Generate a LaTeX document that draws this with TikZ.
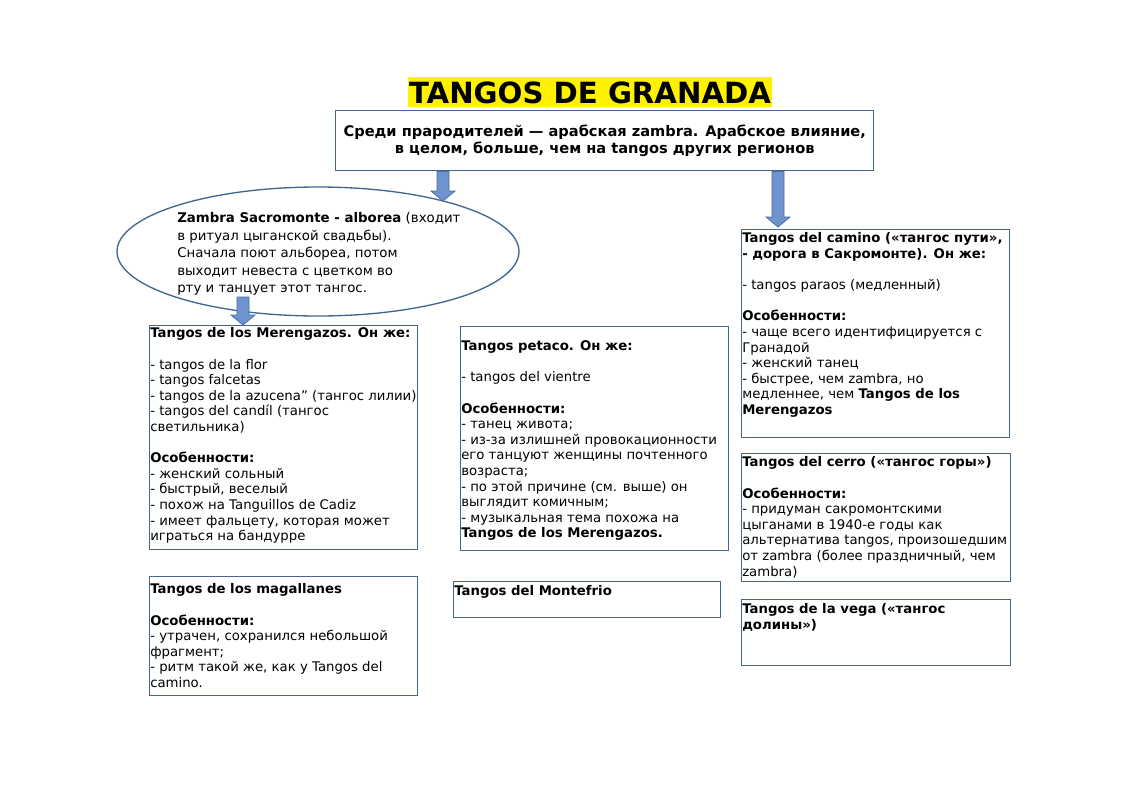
\documentclass[tikz,border=0pt]{standalone}
\usepackage{fontspec}
\setmainfont{DejaVu Sans}
\usetikzlibrary{calc,shapes.geometric}
\definecolor{bordc}{HTML}{46668F}
\definecolor{ellc}{HTML}{41668F}
\definecolor{arrfill}{HTML}{6E93CD}
\definecolor{arrdraw}{HTML}{4B70A6}
\newcommand\blockarr[2]{%
  \path[arrowst] let \p1=(#1), \p2=(#2) in
    (\x1-4.5pt,\y1) -- (\x1+4.5pt,\y1) -- (\x1+4.5pt,\y2+7.5pt) -- (\x1+9pt,\y2+7.5pt)
    -- (\x1,\y2) -- (\x1-9pt,\y2+7.5pt) -- (\x1-4.5pt,\y2+7.5pt) -- cycle;}
\begin{document}
\begin{tikzpicture}[x=0.75pt,y=-0.75pt,
  boxst/.style 2 args={draw=bordc, line width=1.1pt, inner sep=0pt, anchor=north west,
     minimum width={#1*0.75pt}, minimum height={#2*0.75pt}},
  txt/.style={anchor=north west, inner sep=0pt, align=left,
     font=\fontsize{9.95pt}{11.7pt}\selectfont},
  arrowst/.style={fill=arrfill, draw=arrdraw, line width=0.6pt, line join=miter}]
\useasboundingbox (0,0) rectangle (1122,793);
\fill[white] (0,0) rectangle (1122,793);
% title
\fill[yellow] (408,77) rectangle (772,107);
\node[inner sep=0pt, font=\bfseries\fontsize{21.9pt}{24pt}\selectfont] (title) at (590,93) {TANGOS DE GRANADA};
% top box
\node[boxst={538}{60}] (top) at (335,110) {};
\node[inner sep=0pt, align=center, font=\bfseries\fontsize{10.95pt}{12.75pt}\selectfont] (topt) at (top.center)
  {Среди прародителей — арабская zambra. Арабское влияние,\\в целом, больше, чем на tangos других регионов};
% ellipse
\node[ellipse, draw=ellc, line width=1pt, inner sep=0pt, minimum width={402*0.75pt}, minimum height={129*0.75pt}] (zam) at (318,251.5) {};
\node[txt, font=\fontsize{10pt}{13.1pt}\selectfont] (zamt) at (177,212.5)
  {\textbf{Zambra Sacromonte - alborea} (входит\\
   в ритуал цыганской свадьбы).\\
   Сначала поют альбореа, потом\\
   выходит невеста с цветком во\\
   рту и танцует этот тангос.};
% boxes
\node[boxst={268}{224}] (mer) at (149,325) {};
\node[txt] (mert) at ($(mer.north west)+(1,2.5)$)
  {\textbf{Tangos de los Merengazos. Он же:}\\[11.7pt]
   - tangos de la flor\\
   - tangos falcetas\\
   - tangos de la azucena\symbol{34} (тангос лилии)\\
   - tangos del candíl (тангос\\
   светильника)\\[11.7pt]
   \textbf{Особенности:}\\
   - женский сольный\\
   - быстрый, веселый\\
   - похож на Tanguillos de Cadiz\\
   - имеет фальцету, которая может\\
   играться на бандурре};
\node[boxst={268}{224}] (pet) at (460,326) {};
\node[txt] (pett) at ($(pet.north west)+(1,14.5)$)
  {\textbf{Tangos petaco. Он же:}\\[11.7pt]
   - tangos del vientre\\[11.7pt]
   \textbf{Особенности:}\\
   - танец живота;\\
   - из-за излишней провокационности\\
   его танцуют женщины почтенного\\
   возраста;\\
   - по этой причине (см. выше) он\\
   выглядит комичным;\\
   - музыкальная тема похожа на\\
   \textbf{Tangos de los Merengazos.}};
\node[boxst={268}{208}] (cam) at (741,229) {};
\node[txt] (camt) at ($(cam.north west)+(1,3.5)$)
  {\textbf{Tangos del camino («тангос пути»,}\\
   \textbf{- дорога в Сакромонте). Он же:}\\[11.7pt]
   - tangos paraos (медленный)\\[11.7pt]
   \textbf{Особенности:}\\
   - чаще всего идентифицируется с\\
   Гранадой\\
   - женский танец\\
   - быстрее, чем zambra, но\\
   медленнее, чем \textbf{Tangos de los}\\
   \textbf{Merengazos}};
\node[boxst={269}{128}] (cer) at (741,453) {};
\node[txt] (cert) at ($(cer.north west)+(1,3.5)$)
  {\textbf{Tangos del cerro («тангос горы»)}\\[11.7pt]
   \textbf{Особенности:}\\
   - придуман сакромонтскими\\
   цыганами в 1940-е годы как\\
   альтернатива tangos, произошедшим\\
   от zambra (более праздничный, чем\\
   zambra)};
\node[boxst={269}{66}] (veg) at (741,599) {};
\node[txt] (vegt) at ($(veg.north west)+(1,4.5)$)
  {\textbf{Tangos de la vega («тангос}\\
   \textbf{долины»)}};
\node[boxst={268}{119}] (mag) at (149,576) {};
\node[txt] (magt) at ($(mag.north west)+(1,7.5)$)
  {\textbf{Tangos de los magallanes}\\[11.7pt]
   \textbf{Особенности:}\\
   - утрачен, сохранился небольшой\\
   фрагмент;\\
   - ритм такой же, как у Tangos del\\
   camino.};
\node[boxst={267}{36}] (mon) at (453,581) {};
\node[txt] (mont) at ($(mon.north west)+(1,4.5)$)
  {\textbf{Tangos del Montefrio}};
% arrows
\coordinate (a1s) at ($(top.south west)+(108,0)$);
\coordinate (a1e) at (443,201);
\coordinate (a2s) at ($(top.south west)+(443,0)$);
\coordinate (a2e) at ($(cam.north west)+(37,-2)$);
\coordinate (a3s) at (243,297);
\coordinate (a3e) at ($(mer.north west)+(94,0)$);
\blockarr{a1s}{a1e}
\blockarr{a2s}{a2e}
\blockarr{a3s}{a3e}
\end{tikzpicture}
\end{document}
